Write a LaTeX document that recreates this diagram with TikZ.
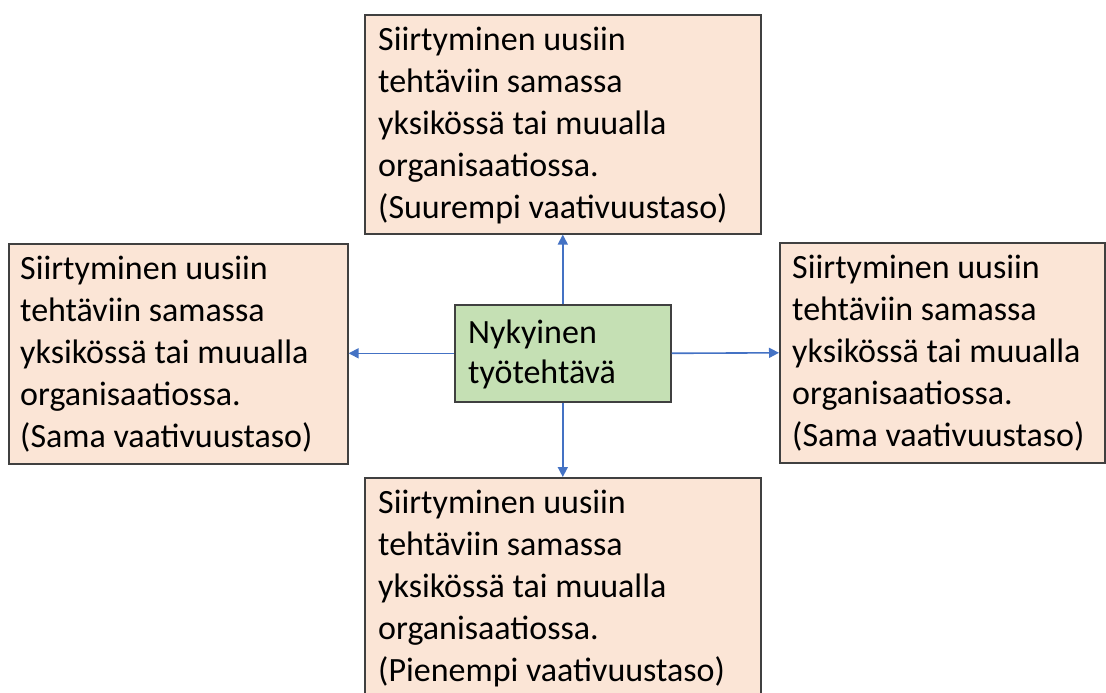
\documentclass[tikz,border=0pt]{standalone}
\usepackage{fontspec}
\setmainfont{Carlito}
\usetikzlibrary{arrows.meta,calc}
\definecolor{peach}{HTML}{FBE5D6}
\definecolor{leaf}{HTML}{C5E0B4}
\definecolor{edge}{HTML}{404040}
\definecolor{link}{HTML}{4472C4}
\newcommand{\topstrut}{\rule{0pt}{26pt}}
\tikzset{
  box/.style={draw=edge, line width=1.6pt, fill=peach, inner sep=0pt, anchor=north west},
  core/.style={draw=edge, line width=1.6pt, fill=leaf, inner sep=0pt, anchor=north west},
  txt/.style={anchor=north west, inner sep=0pt, font=\fontsize{34}{42}\selectfont, align=left},
  link/.style={draw=link, line width=1.6pt, -{Triangle[length=10pt,width=10pt]}}
}
\begin{document}
\begin{tikzpicture}[x=1pt,y=-1pt]
\useasboundingbox (0,0) rectangle (1106,693);
\begin{scope}
\clip (0,0) rectangle (1106,693);
% outer boxes
\node[box, minimum width=396pt, minimum height=219pt] (top) at (364,14) {};
\node[box, minimum width=339pt, minimum height=220pt] (left) at (8,243) {};
\node[box, minimum width=325pt, minimum height=220pt] (right) at (779,242) {};
\node[box, minimum width=396pt, minimum height=230pt] (bottom) at (364,477) {};
% current task in the middle
\node[core, minimum width=216pt, minimum height=97pt] (cur) at (454,304) {};
% texts
\node[txt] (ttop) at ($(top.north west)+(14,10.5)$) {\topstrut Siirtyminen uusiin\\tehtäviin samassa\\yksikössä tai muualla\\organisaatiossa.\\(Suurempi vaativuustaso)};
\node[txt] (tleft) at ($(left.north west)+(12,10.5)$) {\topstrut Siirtyminen uusiin\\tehtäviin samassa\\yksikössä tai muualla\\organisaatiossa.\\(Sama vaativuustaso)};
\node[txt] (tright) at ($(right.north west)+(13,10.5)$) {\topstrut Siirtyminen uusiin\\tehtäviin samassa\\yksikössä tai muualla\\organisaatiossa.\\(Sama vaativuustaso)};
\node[txt] (tbottom) at ($(bottom.north west)+(14,10.5)$) {\topstrut Siirtyminen uusiin\\tehtäviin samassa\\yksikössä tai muualla\\organisaatiossa.\\(Pienempi vaativuustaso)};
\node[txt, font=\fontsize{34}{40}\selectfont] (tcur) at ($(cur.north west)+(14,13)$) {\topstrut Nykyinen\\työtehtävä};
\end{scope}
% connectors
\draw[link] (cur.north) -- (top.south);
\draw[link] (cur.south) -- (cur.south |- bottom.north);
\draw[link] (cur.west) -- (cur.west -| left.east);
\draw[link] (cur.east) -- (right.west);
\end{tikzpicture}
\end{document}
